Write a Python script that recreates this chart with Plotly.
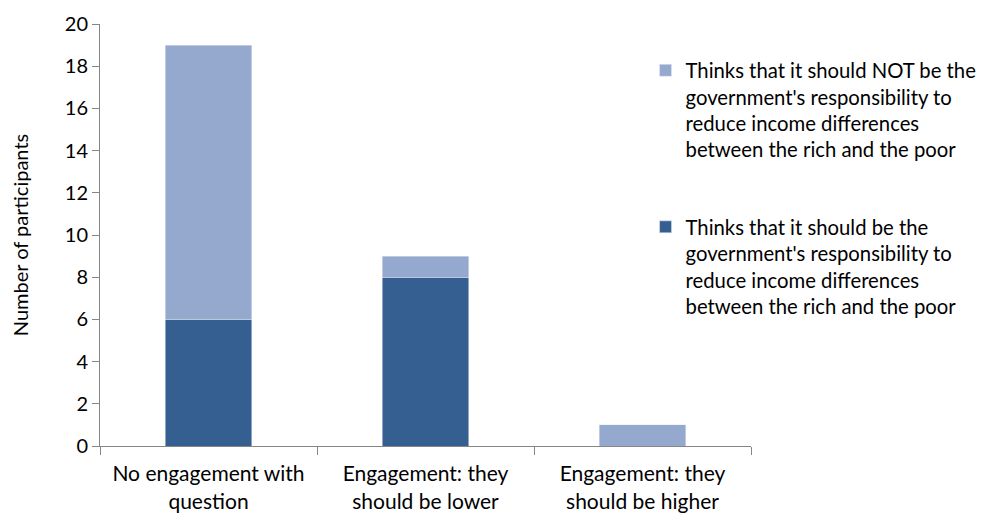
import plotly.graph_objects as go

categories = ["No engagement with<br>question", "Engagement: they<br>should be lower", "Engagement: they<br>should be higher"]
should_be = [6, 8, 0]
should_not_be = [13, 1, 1]
name_should = "Thinks that it should be the<br>government's responsibility to<br>reduce income differences<br>between the rich and the poor"
name_should_not = "Thinks that it should NOT be the<br>government's responsibility to<br>reduce income differences<br>between the rich and the poor"
y_ticks = list(range(0, 21, 2))

FONT = "Lato, 'Noto Sans', sans-serif"
fig = go.Figure()
fig.add_trace(go.Bar(x=categories, y=should_be, name=name_should, marker_color="#365F91",
                     legendgroup="a", legendrank=2))
fig.add_trace(go.Bar(x=categories, y=should_not_be, name=name_should_not, marker_color="#95A9CF",
                     legendgroup="b", legendrank=1))

fig.update_layout(
    barmode="stack", bargap=0.6,
    width=989, height=513,
    margin=dict(l=92, r=246, t=16, b=75, autoexpand=False),
    plot_bgcolor="white", paper_bgcolor="white",
    font=dict(family=FONT, size=20, color="#000000"),
    legend=dict(x=0.838, y=0.937, xanchor="left", yanchor="top", valign="top",
                traceorder="grouped", tracegroupgap=48,
                font=dict(size=20.3, family=FONT), bgcolor="rgba(0,0,0,0)"),
)
fig.update_xaxes(showline=True, linecolor="#868686", linewidth=1, automargin=False,
                 ticks="outside", tickson="boundaries", ticklen=8, tickcolor="#868686",
                 showgrid=False, tickfont=dict(size=21), ticklabelstandoff=9)
fig.update_yaxes(range=[0, 20], tickvals=y_ticks, showline=True, linecolor="#868686", linewidth=1,
                 automargin=False,
                 ticks="outside", ticklen=7, tickcolor="#868686", showgrid=False, zeroline=False,
                 title=dict(text="Number of participants", font=dict(size=20), standoff=42),
                 tickfont=dict(size=20))
fig.write_html("out.html")
